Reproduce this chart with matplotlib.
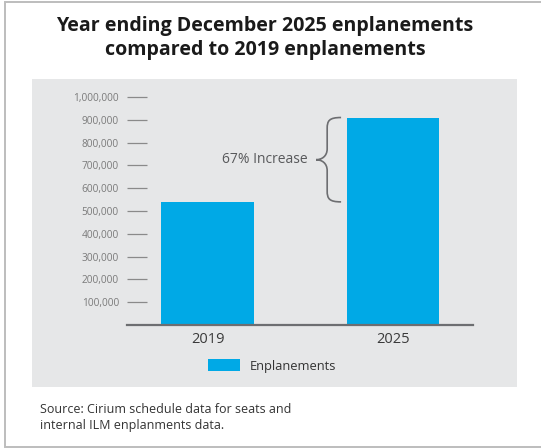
import matplotlib.pyplot as plt
from matplotlib.patches import Rectangle, PathPatch
from matplotlib.path import Path

plt.rcParams["font.family"] = ["Open Sans", "DejaVu Sans"]

# ===================== DATA =====================

years = ["2019", "2025"]
enplanements = [540000, 910000]
y_ticks = [100000, 200000, 300000, 400000, 500000,
           600000, 700000, 800000, 900000, 1000000]
increase_label = "67% Increase"

BAR_COLOR = "#00a9e6"
PANEL_COLOR = "#e6e7e8"

# ===================== FIGURE =====================

fig = plt.figure(figsize=(5.41, 4.48), dpi=100)

# outer frame and grey panel (behind the axes)
fig.patches.append(Rectangle((5 / 541, 1 / 448), 1.1, 445 / 448, transform=fig.transFigure,
                             facecolor="white", edgecolor="#bdbdbd", lw=1.4, zorder=-2))
fig.patches.append(Rectangle((32 / 541, 1 - 387 / 448), 485 / 541, 308 / 448,
                             transform=fig.transFigure, facecolor=PANEL_COLOR,
                             edgecolor="none", zorder=-1))

fig.text(265 / 541, 1 - 38 / 448,
         "Year ending December 2025 enplanements\ncompared to 2019 enplanements",
         ha="center", va="center", fontsize=14.1, fontweight="bold",
         color="#1a1a1a", linespacing=1.2)

ax = fig.add_axes([127 / 541, 1 - 325 / 448, 346 / 541, 228 / 448])
ax.set_facecolor("none")

x = list(range(len(years)))
width = 0.5
bars = ax.bar(x, enplanements, width=width, color=BAR_COLOR, label="Enplanements", zorder=2)

ax.set_xlim(-0.434, 1.431)
ax.set_ylim(0, 1000000)
ax.set_xticks(x)
ax.set_xticklabels(years)
ax.set_yticks(y_ticks)
ax.set_yticklabels([f"{v:,}" for v in y_ticks])

for side in ["left", "right", "top"]:
    ax.spines[side].set_visible(False)
ax.spines["bottom"].set_color("#6d6e71")
ax.spines["bottom"].set_linewidth(1.6)

ax.tick_params(axis="y", direction="in", length=14.4, width=0.9, color="#8a8a8a",
               pad=5.8, labelsize=7.3, labelcolor="#7a7a7a")
ax.tick_params(axis="x", length=0, pad=5, labelsize=10.5, labelcolor="#3a3a3a")

# curly brace showing the increase
top = enplanements[1]
bot = enplanements[0]
mid = (top + bot) / 2
x_end = x[1] - width / 2 - 0.03
x_mid = x_end - 0.075
x_tip = x_end - 0.135
r = (top - bot) * 0.13
verts = [
    (x_end, top),
    (x_mid + 0.01, top), (x_mid, top - r * 0.3), (x_mid, top - r),
    (x_mid, mid + r),
    (x_mid, mid + r * 0.3), (x_tip + 0.03, mid), (x_tip, mid),
    (x_tip + 0.03, mid), (x_mid, mid - r * 0.3), (x_mid, mid - r),
    (x_mid, bot + r),
    (x_mid, bot + r * 0.3), (x_mid + 0.01, bot), (x_end, bot),
]
codes = [Path.MOVETO,
         Path.CURVE4, Path.CURVE4, Path.CURVE4,
         Path.LINETO,
         Path.CURVE4, Path.CURVE4, Path.CURVE4,
         Path.CURVE4, Path.CURVE4, Path.CURVE4,
         Path.LINETO,
         Path.CURVE4, Path.CURVE4, Path.CURVE4]
ax.add_patch(PathPatch(Path(verts, codes), facecolor="none", edgecolor="#6d6e71",
                       lw=1.2, zorder=3))
ax.text(x_tip - 0.045, mid, increase_label, ha="right", va="center",
        fontsize=10, color="#58595b")

# legend
fig.legend(handles=[bars], loc="center", bbox_to_anchor=(272 / 541, 1 - 366 / 448),
           frameon=False, fontsize=9.3, handlelength=2.5, handleheight=1.0,
           handletextpad=0.7, labelcolor="#333333")

fig.text(40 / 541, 1 - 417 / 448,
         "Source: Cirium schedule data for seats and\ninternal ILM enplanments data.",
         ha="left", va="center", fontsize=9.0, color="#333333", linespacing=1.3)

fig.savefig("out.png", dpi=100)
